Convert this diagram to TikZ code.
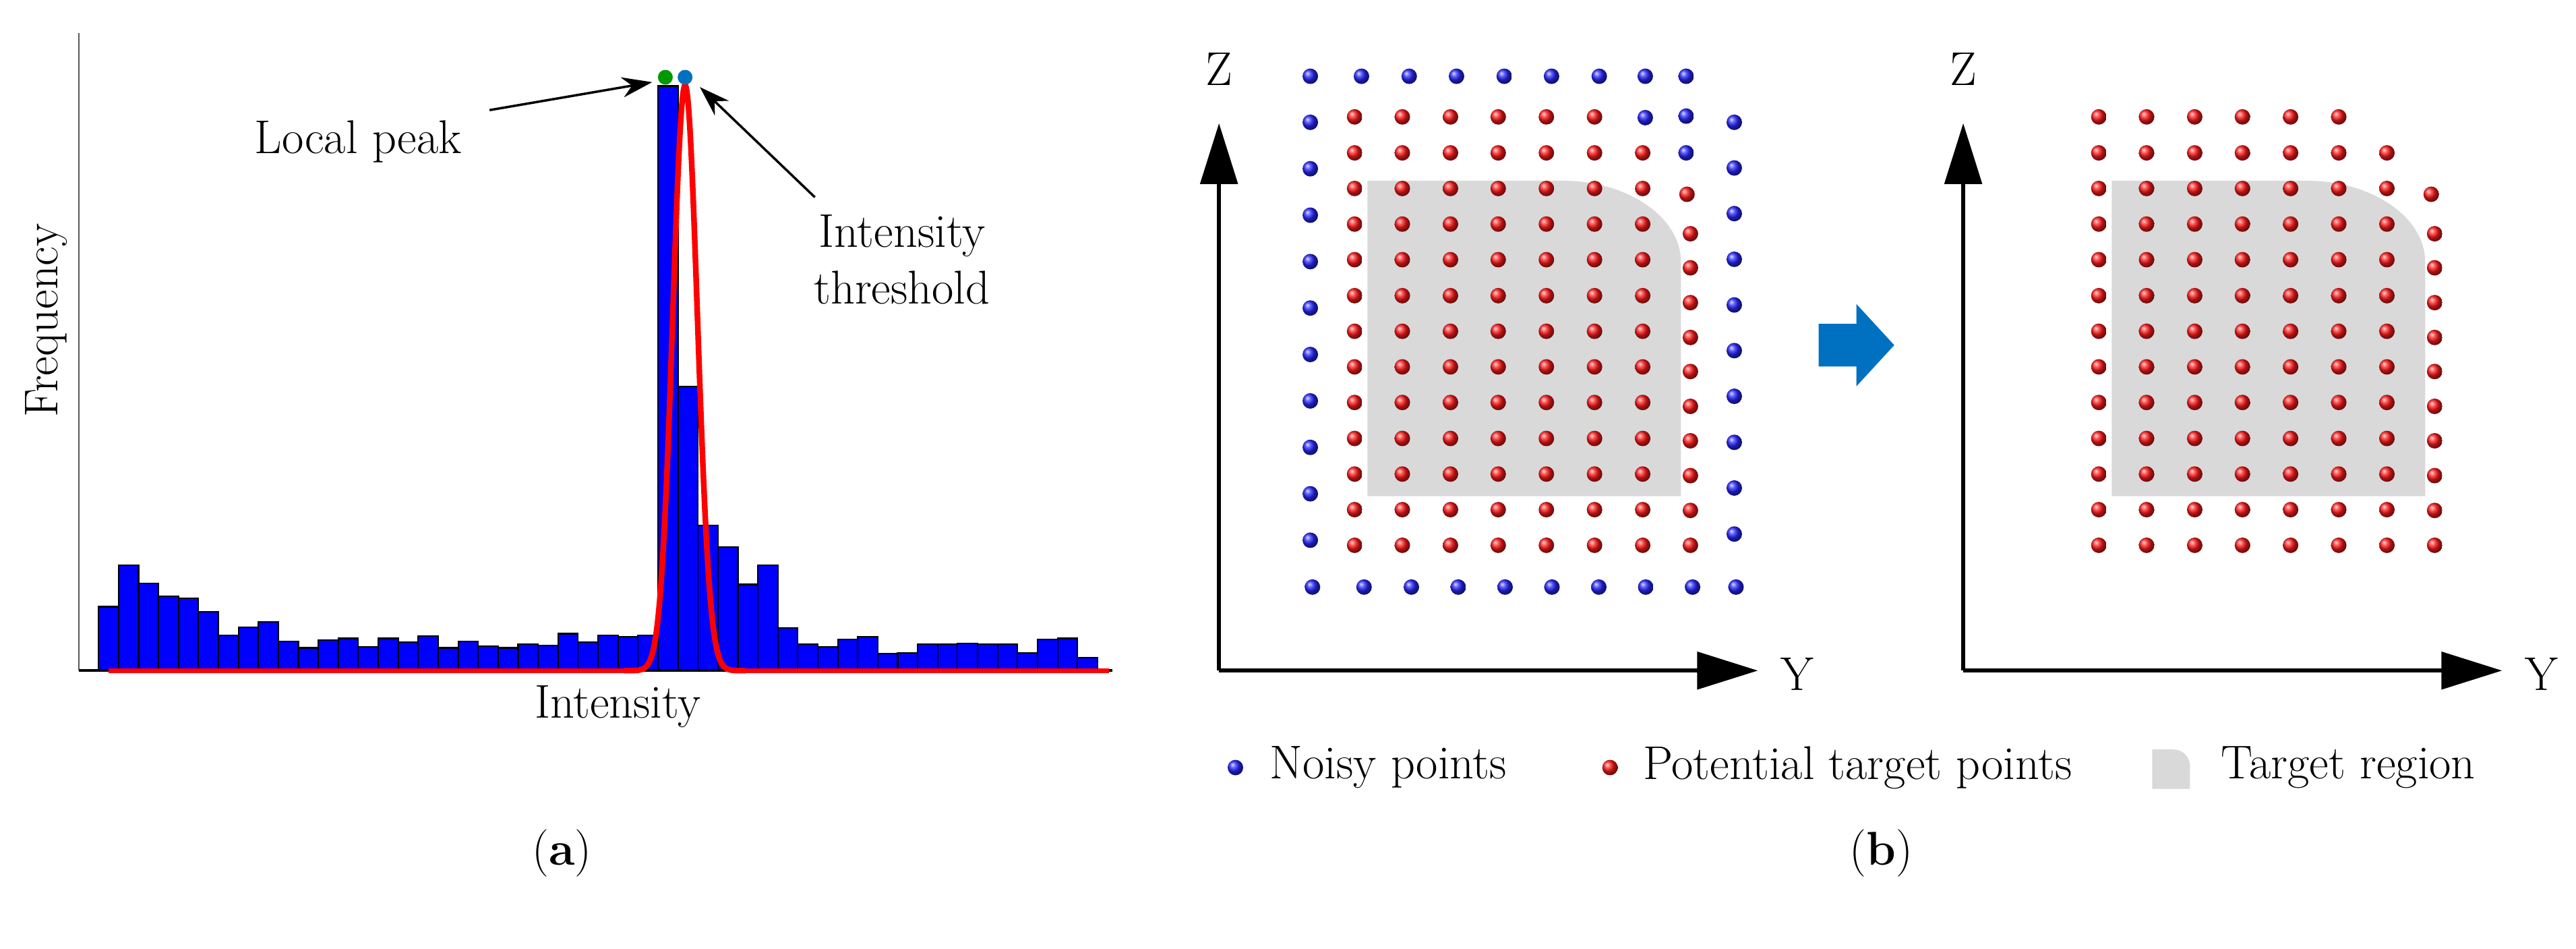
\documentclass[tikz,border=0pt]{standalone}
\usetikzlibrary{arrows.meta}
\definecolor{bblue}{RGB}{0,0,255}
\definecolor{gbox}{RGB}{217,217,217}
\definecolor{arrb}{RGB}{0,112,192}
\begin{document}
\begin{tikzpicture}[x=0.02437cm,y=-0.02437cm,
  lab/.style={font=\fontsize{20}{24}\selectfont},
  bar/.style={fill=bblue,draw=black,line width=0.6pt},
  bd/.style={shading=ball,ball color=bblue!85!white},
  rd/.style={shading=ball,ball color=red!90!white},
  ax/.style={line width=1.6pt,-{Triangle[length=0.9cm,width=0.55cm]}},
  pt/.style={-{Stealth[length=0.45cm,width=0.3cm]},line width=1pt}]
\useasboundingbox (0,0) rectangle (1568,577);
% ---------- panel a ----------
\foreach \t [count=\i from 0] in {1280,1192,1231,1258,1262,1291,1340,1324,1312,1354,1367,1351,1347,1365,1347,1355,1342,1367,1354,1363,1367,1359,1362,1337,1355,1341,1344,1341,180,815,1108,1154,1233,1192,1325,1359,1365,1349,1344,1379,1377,1359,1359,1358,1359,1359,1377,1349,1347,1387}
  \draw[bar] ({60+\i*12.16},408) rectangle ({60+(\i+1)*12.16},{408-(1415-\t)*0.288});
\draw[gray!70!black,line width=0.6pt] (48,20) -- (48,408);
\draw[black,line width=1pt] (48,408) -- (677,408);
\draw[red,line width=2pt] (66,408) -- (380,408);
\draw[red,line width=2pt] (454,408) -- (675,408);
\draw[red,line width=2.4pt] plot[domain=380:454,samples=120,smooth] (\x,{408-356*exp(-((\x-417)/7.5)^2/2)});
\fill[green!60!black] (405,47) circle (0.11cm) coordinate (gp);
\fill[arrb] (417,47) circle (0.11cm) coordinate (bp);
\coordinate (lpA) at (298,67);
\coordinate (lpB) at (397,50);
\coordinate (itA) at (496,120);
\coordinate (itB) at (426,53);
\draw[pt] (lpA) -- (lpB);
\draw[pt] (itA) -- (itB);
\node[lab] (lp) at (218,86) {Local peak};
\node[lab,align=center] (it) at (549,158) {Intensity\\threshold};
\node[lab,rotate=90] (fq) at (28,195) {Frequency};
\node[lab] (in) at (376,430) {Intensity};
\node[lab] (ca) at (342,519) {(\textbf{a})};
% ---------- panel b ----------
\foreach \dx in {0,453}{
\begin{scope}[xshift={\dx*0.02437cm}]
\coordinate (o\dx) at (742,408);
\coordinate (zt\dx) at (742,75);
\coordinate (yt\dx) at (1070,408);
\draw[ax] (o\dx) -- (zt\dx);
\draw[ax] (o\dx) -- (yt\dx);
\node[lab] (z\dx) at (742,42) {Z};
\node[lab] (y\dx) at (1094,410) {Y};
\end{scope}
\begin{scope}[shift={({(718+\dx)*0.02437cm},-0.4996cm)},x=0.006373cm,y=-0.005739cm]
\fill[gbox] (437,1195) -- (437,380) -- (890,380) arc[start angle=-90,end angle=0,x radius=276,y radius=210] -- (1166,1195) -- cycle;
\foreach \cx in {407,518,630,741,853,965,1077}
  \foreach \cy in {215,308,400,492,584,677,769,861,953,1046,1138,1230,1322}{
    \ifnum\cx=1077 \ifnum\cy=215 \else \shade[rd] (\cx,\cy) circle (0.115cm); \fi
    \else \shade[rd] (\cx,\cy) circle (0.115cm); \fi}
\foreach \cx/\cy in {1180/415,1188/517,1188/605,1188/695,1188/785,1188/873,1188/963,1188/1052,1188/1142,1188/1232,1188/1322}
  \shade[rd] (\cx,\cy) circle (0.115cm);
\ifnum\dx=0
\foreach \cx in {304,423,534,644,755,865,976,1083,1178} \shade[bd] (\cx,110) circle (0.115cm);
\foreach \cy in {229,349,469,589,709,829,949,1069,1189,1309} \shade[bd] (304,\cy) circle (0.115cm);
\foreach \cx in {309,429,539,648,757,866,975,1084,1193,1294} \shade[bd] (\cx,1430) circle (0.115cm);
\foreach \cy in {229,347,465,583,701,819,937,1056,1174,1293} \shade[bd] (1290,\cy) circle (0.115cm);
\foreach \cx/\cy in {1083/217,1178/213,1178/308} \shade[bd] (\cx,\cy) circle (0.115cm);
\fi
\end{scope}}
% block arrow
\fill[arrb] (1107,197) -- (1130,197) -- (1130,185) -- (1153,210) -- (1130,235) -- (1130,223) -- (1107,223) -- cycle;
% legend
\shade[bd] (752,467) circle (0.115cm);
\node[lab,anchor=west] (ln) at (768,467) {Noisy points};
\shade[rd] (980,467) circle (0.115cm);
\node[lab,anchor=west] (lr) at (995,467) {Potential target points};
\fill[gbox] (1310,480) -- (1310,456) -- (1323,456) arc[start angle=-90,end angle=0,radius=10] -- (1333,480) -- cycle;
\node[lab,anchor=west] (lt) at (1347,467) {Target region};
\node[lab] (cb) at (1145,519) {(\textbf{b})};
\end{tikzpicture}
\end{document}
